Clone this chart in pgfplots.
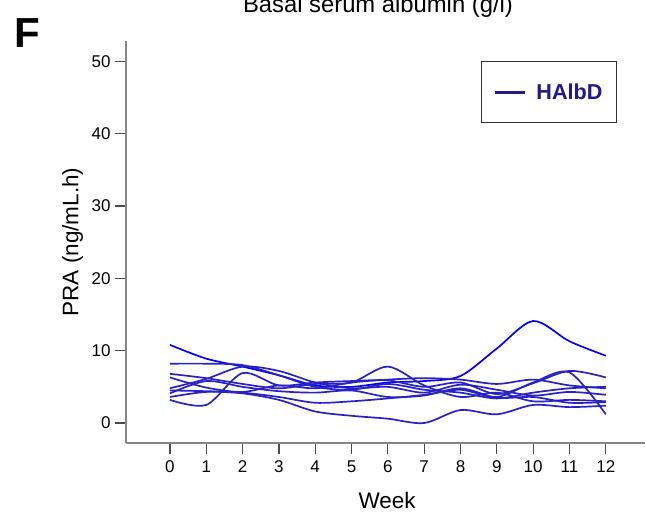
\documentclass[border=0pt]{standalone}
\usepackage{pgfplots}
\pgfplotsset{compat=1.18}
\usepackage{pgfplotstable}
\usepackage{fontspec}
\setmainfont{Liberation Sans}
\definecolor{lineblue}{RGB}{40,34,198}
\definecolor{legnavy}{RGB}{32,26,138}
\definecolor{axgray}{RGB}{135,135,135}

\pgfplotstableread{
w  s1   s2   s3   s4   s5   s6   s7   s8   s9
0  10.8 8.2  3.2  6.8  6.3  4.8  4.1  3.6  4.5
1  8.9  8.2  2.5  6.2  4.9  6.1  5.8  4.3  4.4
2  7.8  8.0  6.9  5.4  4.3  7.8  5.0  4.1  4.2
3  6.6  6.6  5.2  4.8  5.2  7.2  4.4  3.2  3.6
4  5.2  5.0  5.6  5.4  4.8  5.6  4.2  1.6  2.8
5  5.0  4.6  5.8  5.6  5.6  4.8  4.5  1.0  3.0
6  5.6  5.4  5.9  7.8  6.0  5.0  3.6  0.6  3.4
7  5.8  4.6  5.0  5.2  6.2  4.2  3.8  0.0  3.9
8  6.5  4.2  5.6  3.6  6.0  5.3  4.8  1.8  4.6
9  10.3 3.4  4.0  4.2  5.4  4.6  3.5  1.2  3.6
10 14.1 4.2  5.5  3.0  6.0  3.8  3.6  2.5  5.6
11 11.3 4.8  7.2  3.2  5.2  4.3  2.8  2.2  7.0
12 9.3  5.0  6.3  3.0  4.8  3.9  2.9  2.4  1.2
}\pradata

\begin{document}
\begin{tikzpicture}
\useasboundingbox (0pt,0pt) rectangle (646pt,515pt);
\node[anchor=base, font=\fontsize{23.8}{26}\selectfont] at (378pt,502.5pt) {Basal serum albumin (g/l)};
\node[anchor=base west, font=\fontsize{42}{44}\selectfont\bfseries, inner sep=0pt] at (14pt,467pt) {F};
\begin{axis}[
  at={(126pt,72pt)}, anchor=south west,
  scale only axis, width=519pt, height=402pt,
  xmin=-1.21, xmax=13.08, ymin=-2.76, ymax=52.8,
  axis x line*=bottom, axis y line*=left,
  axis line style={-, draw=axgray, line width=1.4pt},
  xtick={0,1,...,12}, ytick={0,10,...,50},
  tick align=outside, major tick length=11pt,
  tick style={draw=black!70, line width=1.2pt},
  /pgf/number format/assume math mode=true,
  ticklabel style={font=\fontsize{17}{18}\selectfont},
  xticklabel style={yshift=-3pt},
  yticklabel style={xshift=-1pt},
  xlabel={Week}, ylabel={PRA (ng/mL.h)},
  every axis x label/.style={at={(rel axis cs:0.503,-0.1624)}, anchor=base, font=\fontsize{22.5}{24}\selectfont},
  every axis y label/.style={at={(rel axis cs:-0.0919,0.5)}, anchor=base, rotate=90, font=\fontsize{22.5}{24}\selectfont},
  legend style={at={(rel axis cs:0.946,0.950)}, anchor=north east,
    draw=black!80, line width=1pt, inner xsep=12pt, inner ysep=20pt,
    font=\fontsize{21.6}{24}\selectfont\bfseries, text=legnavy,
    /tikz/every odd column/.append style={column sep=8pt}},
  legend image code/.code={\draw[legnavy, line width=2.8pt] (0pt,0pt) -- (30pt,0pt);},
  every axis plot/.append style={lineblue, line width=1.7pt, smooth, no markers},
]
\addplot table[x=w,y=s1]{\pradata};
\addlegendentry{HAlbD}
\addplot[forget plot] table[x=w,y=s2]{\pradata};
\addplot[forget plot] table[x=w,y=s3]{\pradata};
\addplot[forget plot] table[x=w,y=s4]{\pradata};
\addplot[forget plot] table[x=w,y=s5]{\pradata};
\addplot[forget plot] table[x=w,y=s6]{\pradata};
\addplot[forget plot] table[x=w,y=s7]{\pradata};
\addplot[forget plot] table[x=w,y=s8]{\pradata};
\addplot[forget plot] table[x=w,y=s9]{\pradata};
\end{axis}
\end{tikzpicture}
\end{document}
